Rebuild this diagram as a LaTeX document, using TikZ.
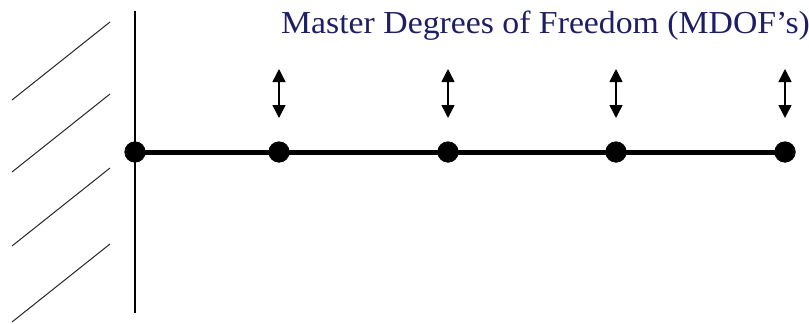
\documentclass[tikz,border=0pt]{standalone}
\usepackage{fontspec}
\setmainfont{Liberation Serif}
\usetikzlibrary{arrows.meta,calc}
\definecolor{mdofblue}{RGB}{30,30,100}

\begin{document}
\begin{tikzpicture}[
    x=1pt, y=-1pt,
    joint/.style={circle, fill=black, inner sep=0pt, minimum size=21pt},
    beam/.style={line width=5pt},
    wall/.style={line width=2pt},
    hatch/.style={line width=1pt, gray!30!black},
    dof/.style={{Triangle[length=13pt, width=13pt]}-{Triangle[length=13pt, width=13pt]}, line width=1.5pt},
    label/.style={font=\fontsize{32}{36}\selectfont, text=mdofblue, inner sep=0pt},
]
\useasboundingbox (0,0) rectangle (809,324);

% fixed support
\coordinate (wtop) at (135,11);
\coordinate (wbot) at (135,313);
\draw[wall] (wtop) -- (wbot);
\foreach \i/\yy in {1/0, 2/72, 3/146, 4/222} {
    \draw[hatch] (12,100+\yy) -- (110,22+\yy);
}

% joints along the beam
\node[joint] (n0) at (135,152) {};
\foreach \i/\xx in {1/279, 2/448, 3/616, 4/785} {
    \node[joint] (n\i) at (\xx,152) {};
}
\draw[beam] (n0.center) -- (n1.center) -- (n2.center) -- (n3.center) -- (n4.center);
\foreach \i in {0,...,4} {
    \node[joint] at (n\i) {};
}

% master dofs
\foreach \i in {1,...,4} {
    \coordinate (u\i) at ($(n\i)+(0,-83)$);
    \coordinate (d\i) at ($(n\i)+(0,-34)$);
    \draw[dof] (u\i) -- (d\i);
}

\node[label, anchor=base west] (title) at (281,34) {\scalebox{1.055}[1]{Master Degrees of Freedom (MDOF's)}};
\end{tikzpicture}
\end{document}
